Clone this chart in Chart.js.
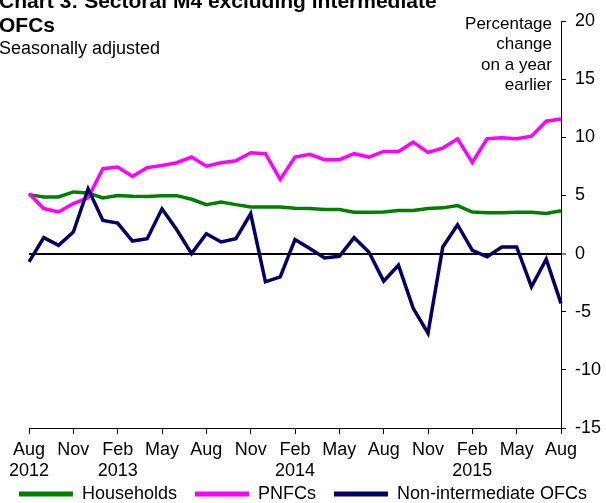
<!DOCTYPE html>
<html>
<head>
<meta charset="utf-8">
<script src="https://cdn.jsdelivr.net/npm/chart.js@4.4.0/dist/chart.umd.min.js"></script>
<style>
  body { margin: 0; background: #fff; }
  #wrap { position: relative; width: 606px; height: 503px; overflow: hidden; font-family: 'Liberation Sans', Arial, sans-serif; color: #000; }
  #wrap canvas { position: absolute; left: 0; top: 0; }
  .title { position: absolute; left: -1px; top: -11.5px; font-weight: bold; font-size: 21px; line-height: 24px; white-space: nowrap; }
  .sub { position: absolute; left: -1px; top: 38px; font-size: 18px; line-height: 20.5px; white-space: nowrap; }
  .unit { position: absolute; right: 54px; top: 13.5px; font-size: 17px; line-height: 20.5px; text-align: right; white-space: nowrap; }
</style>
</head>
<body>
<div id="wrap">
  <canvas id="chart" width="606" height="503"></canvas>
  <div class="title">Chart 3: Sectoral M4 excluding intermediate<br>OFCs</div>
  <div class="sub">Seasonally adjusted</div>
  <div class="unit">Percentage<br>change<br>on a year<br>earlier</div>
</div>
<script>
// monthly, Aug 2012 - Aug 2015
const months = [
  'Aug 2012', 'Sep 2012', 'Oct 2012', 'Nov 2012', 'Dec 2012', 'Jan 2013', 'Feb 2013', 'Mar 2013', 'Apr 2013',
  'May 2013', 'Jun 2013', 'Jul 2013', 'Aug 2013', 'Sep 2013', 'Oct 2013', 'Nov 2013', 'Dec 2013', 'Jan 2014',
  'Feb 2014', 'Mar 2014', 'Apr 2014', 'May 2014', 'Jun 2014', 'Jul 2014', 'Aug 2014', 'Sep 2014', 'Oct 2014',
  'Nov 2014', 'Dec 2014', 'Jan 2015', 'Feb 2015', 'Mar 2015', 'Apr 2015', 'May 2015', 'Jun 2015', 'Jul 2015',
  'Aug 2015'
];
const tickMonth = ['Aug', 'Nov', 'Feb', 'May', 'Aug', 'Nov', 'Feb', 'May', 'Aug', 'Nov', 'Feb', 'May', 'Aug'];
const tickYear = ['2012', '', '2013', '', '', '', '2014', '', '', '', '2015', '', ''];

const households = [5.07, 4.87, 4.87, 5.3, 5.2, 4.78, 5.0, 4.93, 4.9, 4.98, 4.98, 4.67, 4.21, 4.44, 4.21, 4.01, 4.01, 4.0,
  3.9, 3.87, 3.78, 3.78, 3.56, 3.56, 3.58, 3.7, 3.7, 3.87, 3.93, 4.13, 3.57, 3.5, 3.5, 3.56, 3.56, 3.44, 3.68];
const pnfcs = [5.16, 3.87, 3.58, 4.3, 4.8, 7.3, 7.44, 6.64, 7.39, 7.58, 7.81, 8.3, 7.52, 7.81, 7.98, 8.67, 8.59, 6.38,
  8.3, 8.53, 8.07, 8.07, 8.59, 8.3, 8.78, 8.78, 9.58, 8.7, 9.07, 9.87, 7.84, 9.87, 9.96, 9.87, 10.1, 11.38, 11.58];
const ofcs = [-0.72, 1.37, 0.71, 1.85, 5.57, 2.85, 2.62, 1.08, 1.28, 3.85, 2.05, 0, 1.71, 1.0, 1.28, 3.42, -2.43, -2.0,
  1.2, 0.43, -0.37, -0.23, 1.37, 0.14, -2.37, -1.0, -4.71, -6.85, 0.57, 2.48, 0.28, -0.28, 0.57, 0.57, -2.85, -0.48, -4.28];

Chart.defaults.font.family = "'Liberation Sans', Arial, sans-serif";
Chart.defaults.font.size = 18;
Chart.defaults.color = '#000';

const clear = 'rgba(0,0,0,0)';

// the year line of the x labels runs into the legend's band; let it draw there
const labelRoom = {
  id: 'labelRoom',
  afterLayout(chart) { chart.scales.x.bottom += 24; }
};

new Chart(document.getElementById('chart'), {
  type: 'line',
  data: {
    labels: months,
    datasets: [
      { label: 'Households', data: households, borderColor: '#008000', backgroundColor: '#008000', yAxisID: 'y', order: 3 },
      { label: 'PNFCs', data: pnfcs, borderColor: '#FF00FF', backgroundColor: '#FF00FF', yAxisID: 'y', order: 2 },
      { label: 'Non-intermediate OFCs', data: ofcs, borderColor: '#000066', backgroundColor: '#000066', yAxisID: 'y', order: 1 }
    ]
  },
  plugins: [labelRoom],
  options: {
    responsive: false,
    animation: false,
    elements: {
      point: { radius: 0 },
      line: { borderWidth: 3.5, tension: 0 }
    },
    layout: { padding: { top: 21 } },
    plugins: {
      legend: {
        position: 'bottom',
        maxHeight: 36,
        labels: {
          boxWidth: 54,
          boxHeight: 5,
          padding: 18,
          color: '#000',
          font: { size: 18 },
          sort: (a, b) => a.datasetIndex - b.datasetIndex,
          generateLabels: (chart) => Chart.defaults.plugins.legend.labels.generateLabels(chart)
            .map(l => Object.assign(l, { lineWidth: 0 }))
        }
      },
      tooltip: { enabled: false }
    },
    scales: {
      x: {
        type: 'category',
        offset: false,
        grid: {
          drawOnChartArea: false,
          tickLength: 6,
          tickColor: (c) => c.index % 3 === 0 ? '#000' : clear
        },
        border: { display: true, color: '#000', width: 1 },
        ticks: {
          autoSkip: false,
          maxRotation: 0,
          minRotation: 0,
          padding: 6,
          color: '#000',
          font: { size: 18, lineHeight: 1.14 },
          callback: (v, i) => i % 3 === 0 ? [tickMonth[i / 3], tickYear[i / 3]] : ''
        },
        afterFit: (s) => { s.height = 39; }
      },
      pad: {
        type: 'linear',
        position: 'left',
        grid: { display: false },
        border: { display: false },
        ticks: { display: false },
        afterFit: (s) => { s.width = 29; }
      },
      y: {
        position: 'right',
        min: -15,
        max: 20,
        ticks: { stepSize: 5, padding: 9, color: '#000', font: { size: 18 } },
        grid: {
          color: (c) => c.tick && c.tick.value === 0 ? '#000' : clear,
          lineWidth: (c) => c.tick && c.tick.value === 0 ? 2 : 1,
          tickColor: '#000',
          tickWidth: 1,
          tickLength: 5
        },
        border: { display: true, color: '#000', width: 1 },
        afterFit: (s) => { s.width = 45; }
      }
    }
  }
});
</script>
</body>
</html>
